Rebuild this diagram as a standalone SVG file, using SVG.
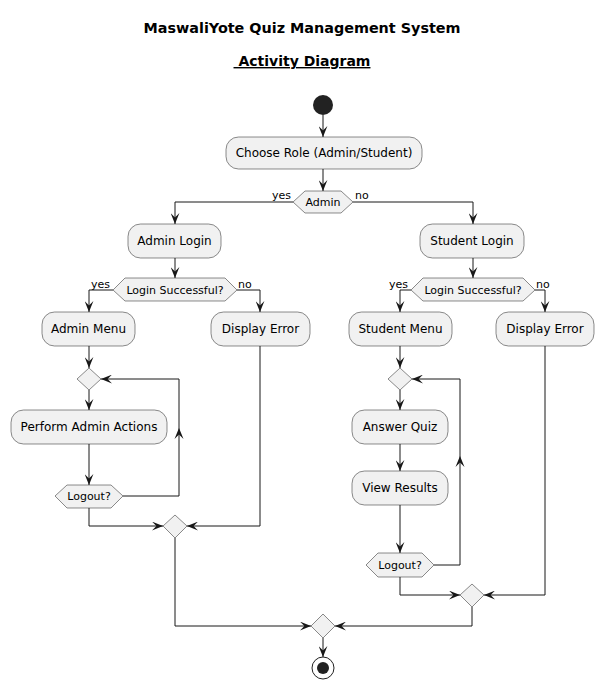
<svg xmlns="http://www.w3.org/2000/svg" width="604" height="689" viewBox="0 0 604 689">
<defs>
<style>
text{font-family:"DejaVu Sans","Liberation Sans",sans-serif;fill:#000}
.act rect{fill:#F1F1F1;stroke:#181818;stroke-width:0.5}
.act text{font-size:12px;text-anchor:middle}
.dec polygon{fill:#F1F1F1;stroke:#181818;stroke-width:0.5}
.dec text{font-size:11px;text-anchor:middle}
.lbl{font-size:11px}
#edges path{fill:none;stroke:#181818;stroke-width:1}
#edges path.ah{fill:#181818;stroke:none}
</style>
<marker id="arr" markerUnits="userSpaceOnUse" markerWidth="11" markerHeight="9" viewBox="0 0 10 8" refX="10" refY="4" orient="auto">
<path d="M0,0 L10,4 L0,8 L4,4 Z" fill="#181818"/>
</marker>
</defs>
<rect width="604" height="689" fill="#fff"/>
<g id="title">
<text x="302" y="33" text-anchor="middle" font-size="14" font-weight="bold" textLength="317" lengthAdjust="spacingAndGlyphs">MaswaliYote Quiz Management System</text>
<text x="302" y="66" text-anchor="middle" font-size="14" font-weight="bold" text-decoration="underline" xml:space="preserve"> Activity Diagram</text>
</g>
<g id="edges">
<path d="M323,115 V137" marker-end="url(#arr)"/>
<path d="M323,169 V191" marker-end="url(#arr)"/>
<path d="M293,202 H175 V224" marker-end="url(#arr)"/>
<path d="M353,202 H473 V224" marker-end="url(#arr)"/>
<path d="M175,258 V278" marker-end="url(#arr)"/>
<path d="M113,290 H89 V312" marker-end="url(#arr)"/>
<path d="M237,290 H260 V312" marker-end="url(#arr)"/>
<path d="M89,346 V368" marker-end="url(#arr)"/>
<path d="M89,390 V410" marker-end="url(#arr)"/>
<path d="M89,444 V485" marker-end="url(#arr)"/>
<path d="M123,496 H179 V379 H101" marker-end="url(#arr)"/>
<path d="M89,508 V526 H163" marker-end="url(#arr)"/>
<path d="M260,346 V526 H187" marker-end="url(#arr)"/>
<path d="M175,538 V626 H311" marker-end="url(#arr)"/>
<path d="M473,258 V278" marker-end="url(#arr)"/>
<path d="M411,290 H400 V312" marker-end="url(#arr)"/>
<path d="M535,290 H545 V312" marker-end="url(#arr)"/>
<path d="M400,346 V368" marker-end="url(#arr)"/>
<path d="M400,390 V410" marker-end="url(#arr)"/>
<path d="M400,444 V471" marker-end="url(#arr)"/>
<path d="M400,505 V553" marker-end="url(#arr)"/>
<path d="M434,565 H460 V379 H412" marker-end="url(#arr)"/>
<path d="M400,577 V595 H460" marker-end="url(#arr)"/>
<path d="M545,346 V595 H484" marker-end="url(#arr)"/>
<path d="M472,607 V626 H335" marker-end="url(#arr)"/>
<path d="M323,638 V657" marker-end="url(#arr)"/>
<path class="ah" d="M174.5,439 L179,428 L183.5,439 L179,434.5 Z"/>
<path class="ah" d="M455.5,467 L460,456 L464.5,467 L460,462.5 Z"/>
<text class="lbl" x="272" y="199">yes</text>
<text class="lbl" x="355" y="199">no</text>
<text class="lbl" x="91" y="288">yes</text>
<text class="lbl" x="238" y="288">no</text>
<text class="lbl" x="389" y="288">yes</text>
<text class="lbl" x="536" y="288">no</text>
</g>
<g id="start"><circle cx="323" cy="105" r="10" fill="#222222"/></g>
<g id="choose" class="act"><rect x="226" y="137" width="196" height="32" rx="12.5"/><text x="324" y="157">Choose Role (Admin/Student)</text></g>
<g id="adminDec" class="dec"><polygon points="293,202 305,191 341,191 353,202 341,213 305,213"/><text x="323" y="206">Admin</text></g>
<g id="adminLogin" class="act"><rect x="128" y="224" width="93" height="34" rx="12.5"/><text x="174.5" y="245">Admin Login</text></g>
<g id="adminLS" class="dec"><polygon points="113,290 125,278 225,278 237,290 225,301 125,301"/><text x="175" y="294">Login Successful?</text></g>
<g id="adminMenu" class="act"><rect x="42" y="312" width="93" height="34" rx="12.5"/><text x="88.5" y="333">Admin Menu</text></g>
<g id="adminErr" class="act"><rect x="211" y="312" width="99" height="34" rx="12.5"/><text x="260.5" y="333">Display Error</text></g>
<g id="adminLoopMerge" class="dec"><polygon points="77,379 89,368 101,379 89,390"/></g>
<g id="adminActions" class="act"><rect x="11" y="410" width="156" height="34" rx="12.5"/><text x="89" y="431">Perform Admin Actions</text></g>
<g id="adminLogout" class="dec"><polygon points="55,496 67,485 111,485 123,496 111,508 67,508"/><text x="89" y="500">Logout?</text></g>
<g id="adminEnd" class="dec"><polygon points="163,526 175,515 187,526 175,538"/></g>
<g id="studentLogin" class="act"><rect x="420" y="224" width="104" height="34" rx="12.5"/><text x="472" y="245">Student Login</text></g>
<g id="studentLS" class="dec"><polygon points="411,290 423,278 523,278 535,290 523,301 423,301"/><text x="473" y="294">Login Successful?</text></g>
<g id="studentMenu" class="act"><rect x="349" y="312" width="103" height="34" rx="12.5"/><text x="400.5" y="333">Student Menu</text></g>
<g id="studentErr" class="act"><rect x="496" y="312" width="98" height="34" rx="12.5"/><text x="545" y="333">Display Error</text></g>
<g id="studentLoopMerge" class="dec"><polygon points="388,379 400,368 412,379 400,390"/></g>
<g id="answerQuiz" class="act"><rect x="352" y="410" width="96" height="34" rx="12.5"/><text x="400" y="431">Answer Quiz</text></g>
<g id="viewResults" class="act"><rect x="352" y="471" width="96" height="34" rx="12.5"/><text x="400" y="492">View Results</text></g>
<g id="studentLogout" class="dec"><polygon points="366,565 378,553 422,553 434,565 422,577 378,577"/><text x="400" y="569">Logout?</text></g>
<g id="studentEnd" class="dec"><polygon points="460,595 472,584 484,595 472,607"/></g>
<g id="finalMerge" class="dec"><polygon points="311,626 323,614 335,626 323,638"/></g>
<g id="end"><circle cx="323" cy="668" r="11" fill="none" stroke="#222222" stroke-width="1"/><circle cx="323" cy="668" r="6" fill="#222222"/></g>
</svg>
